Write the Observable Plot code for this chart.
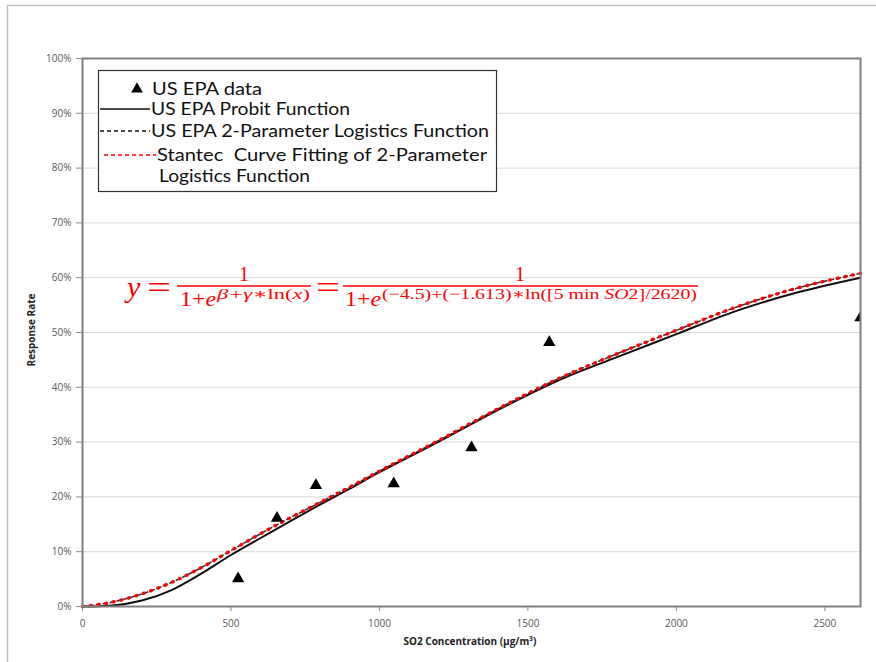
<!DOCTYPE html>
<html><head><meta charset="utf-8">
<script src="https://cdn.jsdelivr.net/npm/d3@7"></script>
<script src="https://cdn.jsdelivr.net/npm/@observablehq/plot@0.6"></script>
<style>body{margin:0;background:#fff} #chart{position:relative;width:876px;height:662px;overflow:hidden}</style>
</head><body><div id="chart"></div>
<script>
// US EPA data points
const epaX = [524, 655, 786, 1048, 1310, 1572, 2620];
const epaY = [0.051, 0.161, 0.221, 0.224, 0.290, 0.482, 0.527];
// curve readings (SO2 concentration, response rate)
const curveX = [0, 100, 200, 300, 400, 500, 600, 700, 800, 900, 1000, 1200, 1400, 1600, 1800, 2000, 2200, 2400, 2620];
const probitY = [0, 0.002, 0.011, 0.030, 0.060, 0.094, 0.125, 0.156, 0.186, 0.215, 0.245, 0.301, 0.359, 0.412, 0.455, 0.497, 0.539, 0.572, 0.600];
const epaLogisticY = [0, 0.008, 0.023, 0.044, 0.071, 0.102, 0.133, 0.162, 0.190, 0.218, 0.247, 0.303, 0.361, 0.415, 0.461, 0.504, 0.546, 0.580, 0.608];
const stantecY = [0, 0.008, 0.023, 0.044, 0.071, 0.102, 0.133, 0.162, 0.190, 0.218, 0.247, 0.303, 0.361, 0.415, 0.461, 0.504, 0.546, 0.580, 0.608];
// ticks
const xTicks = [0, 500, 1000, 1500, 2000, 2500];
const xTickLabels = ["0", "500", "1000", "1500", "2000", "2500"];
const yTicks = [0, 0.1, 0.2, 0.3, 0.4, 0.5, 0.6, 0.7, 0.8, 0.9, 1.0];
const yTickLabels = ["0%", "10%", "20%", "30%", "40%", "50%", "60%", "70%", "80%", "90%", "100%"];
// texts
const xTitle = "SO2 Concentration (µg/m³)";
const yTitle = "Response Rate";
const legendLabels = ["US EPA data", "US EPA Probit Function", "US EPA 2-Parameter Logistics Function", "Stantec  Curve Fitting of 2-Parameter", "Logistics Function"];

const points = epaX.map((x, i) => ({x, y: epaY[i]}));
const probit = curveX.map((x, i) => ({x, y: probitY[i]}));
const epaLog = curveX.map((x, i) => ({x, y: epaLogisticY[i]}));
const stantec = curveX.map((x, i) => ({x, y: stantecY[i]}));
const yLab = new Map(yTicks.map((t, i) => [t, yTickLabels[i]]));
const xLab = new Map(xTicks.map((t, i) => [t, xTickLabels[i]]));

const axisFont = "'Liberation Sans Narrow', 'Open Sans', sans-serif";

const plot = Plot.plot({
  width: 876, height: 662,
  marginLeft: 82, marginRight: 16, marginTop: 58, marginBottom: 56,
  style: {fontFamily: axisFont, fontSize: "10px", color: "#595959", background: "transparent", overflow: "visible"},
  x: {domain: [0, 2620]},
  y: {domain: [0, 1]},
  marks: [
    Plot.gridY(yTicks, {stroke: "#d9d9d9", strokeOpacity: 1, strokeWidth: 1}),
    Plot.line(probit, {x: "x", y: "y", curve: "monotone-x", stroke: "#111", strokeWidth: 2}),
    Plot.line(epaLog, {x: "x", y: "y", curve: "monotone-x", stroke: "#333", strokeWidth: 1.6, strokeDasharray: "4,3"}),
    Plot.line(stantec, {x: "x", y: "y", curve: "monotone-x", stroke: "#ff0000", strokeWidth: 3.4, strokeDasharray: "0.8,7", strokeLinecap: "round"}),
    Plot.dot(points, {x: "x", y: "y", symbol: "triangle", r: 4.6, fill: "#000", stroke: "none", clip: true}),
    Plot.frame({stroke: "#7f7f7f", strokeWidth: 2}),
    Plot.axisY(yTicks, {tickFormat: d => yLab.get(d), tickSize: 6, tickPadding: 5, stroke: "#8a8a8a", label: null}),
    Plot.axisX(xTicks, {tickFormat: d => xLab.get(d), tickSize: 5, tickPadding: 8, stroke: "#8a8a8a", label: null})
  ]
});
document.getElementById("chart").appendChild(plot);

const svg = d3.select(plot);
// outer chart border
svg.append("rect").attr("x", 7.5).attr("y", 5.5).attr("width", 900).attr("height", 700)
  .attr("fill", "none").attr("stroke", "#bfbfbf").attr("stroke-width", 1.5);

// axis titles
svg.append("text").attr("x", 470).attr("y", 645).attr("text-anchor", "middle")
  .attr("font-family", axisFont).attr("font-size", 10).attr("font-weight", "bold").attr("fill", "#222")
  .text(xTitle);
svg.append("text").attr("transform", "translate(35,330) rotate(-90)").attr("text-anchor", "middle")
  .attr("font-family", axisFont).attr("font-size", 10).attr("font-weight", "bold").attr("fill", "#222")
  .text(yTitle);

// legend
const lg = svg.append("g").attr("text-anchor", "start");
lg.append("rect").attr("x", 98.5).attr("y", 70.5).attr("width", 398).attr("height", 121)
  .attr("fill", "#fff").attr("stroke", "#333").attr("stroke-width", 1.2);
lg.append("path").attr("d", d3.symbol(d3.symbolTriangle, 60)()).attr("transform", "translate(137,89)").attr("fill", "#000");
lg.append("line").attr("x1", 100).attr("x2", 150).attr("y1", 109).attr("y2", 109).attr("stroke", "#111").attr("stroke-width", 1.6);
lg.append("line").attr("x1", 100).attr("x2", 150).attr("y1", 131).attr("y2", 131).attr("stroke", "#111").attr("stroke-width", 1.6).attr("stroke-dasharray", "4,3");
lg.append("line").attr("x1", 104).attr("x2", 156).attr("y1", 155).attr("y2", 155).attr("stroke", "#ff0000").attr("stroke-width", 1.6).attr("stroke-dasharray", "4,3");
const legPos = [[152, 95, 110], [151, 115, 199], [151, 137, 338], [157, 161, 330], [159, 182, 151]];
legendLabels.forEach((t, i) => {
  lg.append("text").attr("x", legPos[i][0]).attr("y", legPos[i][1]).attr("text-anchor", "start")
    .attr("font-family", "Lato, 'Open Sans', sans-serif").attr("font-size", 17).attr("fill", "#111")
    .attr("textLength", legPos[i][2]).attr("lengthAdjust", "spacingAndGlyphs").text(t);
});

// formula
const fg = svg.append("g").attr("fill", "#ff0000").attr("text-anchor", "start").attr("font-family", "'Liberation Serif', 'DejaVu Serif', serif");
fg.append("text").attr("x", 127).attr("y", 297).attr("font-size", 30).attr("font-style", "italic").text("y");
fg.append("text").attr("x", 147).attr("y", 298).attr("font-size", 32).attr("textLength", 24).attr("lengthAdjust", "spacingAndGlyphs").text("=");
fg.append("text").attr("x", 244).attr("y", 281).attr("font-size", 20).attr("text-anchor", "middle").text("1");
fg.append("line").attr("x1", 177).attr("x2", 311).attr("y1", 286).attr("y2", 286).attr("stroke", "#ff0000").attr("stroke-width", 1.5);
const d1 = fg.append("text").attr("x", 180).attr("y", 306).attr("font-size", 20).attr("textLength", 36).attr("lengthAdjust", "spacingAndGlyphs");
d1.append("tspan").text("1+");
d1.append("tspan").attr("font-style", "italic").text("e");
const e1 = fg.append("text").attr("x", 217).attr("y", 299).attr("font-size", 15).attr("textLength", 93).attr("lengthAdjust", "spacingAndGlyphs").attr("font-style", "italic");
e1.append("tspan").text("β+γ∗");
e1.append("tspan").attr("font-style", "normal").text("ln(");
e1.append("tspan").text("x");
e1.append("tspan").attr("font-style", "normal").text(")");
fg.append("text").attr("x", 316).attr("y", 298).attr("font-size", 32).attr("textLength", 24).attr("lengthAdjust", "spacingAndGlyphs").text("=");
fg.append("text").attr("x", 520).attr("y", 281).attr("font-size", 20).attr("text-anchor", "middle").text("1");
fg.append("line").attr("x1", 343).attr("x2", 698).attr("y1", 286).attr("y2", 286).attr("stroke", "#ff0000").attr("stroke-width", 1.5);
const d2 = fg.append("text").attr("x", 345).attr("y", 306).attr("font-size", 20).attr("textLength", 36).attr("lengthAdjust", "spacingAndGlyphs");
d2.append("tspan").text("1+");
d2.append("tspan").attr("font-style", "italic").text("e");
const ex = fg.append("text").attr("x", 382).attr("y", 299).attr("font-size", 15).attr("textLength", 315).attr("lengthAdjust", "spacingAndGlyphs");
ex.append("tspan").text("(−4.5)+(−1.613)∗ln([5 min ");
ex.append("tspan").attr("font-style", "italic").text("SO");
ex.append("tspan").text("2]/2620)");
</script>
</body></html>
